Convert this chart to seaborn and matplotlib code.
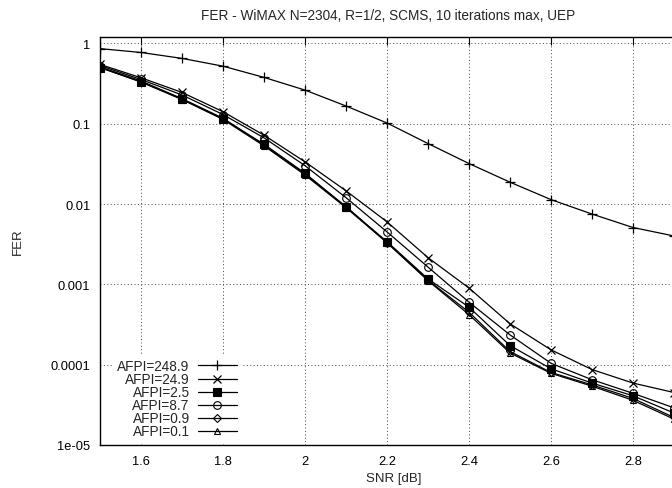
import numpy as np
import pandas as pd
import matplotlib
matplotlib.use("Agg")
import matplotlib.pyplot as plt
from matplotlib.ticker import FixedLocator, FuncFormatter, LogLocator, NullFormatter
import seaborn as sns

# SNR sweep [dB]
snr = [1.5, 1.6, 1.7, 1.8, 1.9, 2.0, 2.1, 2.2, 2.3, 2.4, 2.5, 2.6, 2.7, 2.8, 2.9]

# Frame error rate per AFPI setting
fer_248_9 = [0.86, 0.77, 0.65, 0.52, 0.377, 0.262, 0.166, 0.102, 0.0566, 0.0319,
             0.0187, 0.01135, 0.0075, 0.0051, 0.0040]
fer_24_9 = [0.547, 0.373, 0.245, 0.141, 0.072, 0.0335, 0.0146, 0.0060, 0.00215, 0.00090,
            0.000323, 0.000153, 0.000087, 0.000059, 0.000045]
fer_2_5 = [0.50, 0.333, 0.202, 0.115, 0.0556, 0.0242, 0.0092, 0.0034, 0.00117, 0.00052,
           0.000173, 0.000089, 0.000059, 0.000041, 0.000025]
fer_8_7 = [0.53, 0.355, 0.228, 0.130, 0.0667, 0.030, 0.012, 0.0045, 0.00164, 0.00060,
           0.000235, 0.000104, 0.000065, 0.000044, 0.000029]
fer_0_9 = [0.51, 0.34, 0.205, 0.117, 0.054, 0.0235, 0.0093, 0.0033, 0.00113, 0.00045,
           0.000146, 0.000080, 0.000056, 0.000038, 0.000022]
fer_0_1 = [0.50, 0.33, 0.200, 0.113, 0.053, 0.0230, 0.0090, 0.0033, 0.00111, 0.00042,
           0.000140, 0.000078, 0.000054, 0.000036, 0.000021]

labels = ["AFPI=248.9", "AFPI=24.9", "AFPI=2.5", "AFPI=8.7", "AFPI=0.9", "AFPI=0.1"]
series = [fer_248_9, fer_24_9, fer_2_5, fer_8_7, fer_0_9, fer_0_1]

x_ticks = [1.6, 1.8, 2.0, 2.2, 2.4, 2.6, 2.8]
y_ticks = [1, 0.1, 0.01, 0.001, 0.0001, 0.00001]

title = "FER - WiMAX N=2304, R=1/2, SCMS, 10 iterations max, UEP"

sns.set_style("white")
plt.rcParams["font.family"] = ["Liberation Sans", "DejaVu Sans"]
plt.rcParams["font.size"] = 9

marker_styles = [
    dict(marker="+", markersize=7, markeredgewidth=0.9, markerfacecolor="black"),
    dict(marker="x", markersize=5.5, markeredgewidth=0.9, markerfacecolor="black"),
    dict(marker="s", markersize=5.5, markeredgewidth=0.8, markerfacecolor="black"),
    dict(marker="o", markersize=5.5, markeredgewidth=0.8, markerfacecolor="none"),
    dict(marker="D", markersize=4, markeredgewidth=0.8, markerfacecolor="none"),
    dict(marker="^", markersize=5, markeredgewidth=0.8, markerfacecolor="none"),
]

W, H = 672, 489
fig = plt.figure(figsize=(W / 100, H / 100), dpi=100)
# the plot area runs past the right edge of the canvas
ax = fig.add_axes([100 / W, 43 / H, 615 / W, 408 / H])

for lab, vals, ms in zip(labels, series, marker_styles):
    df = pd.DataFrame({"SNR": snr, "FER": vals})
    sns.lineplot(data=df, x="SNR", y="FER", ax=ax, color="black", linewidth=0.9,
                 markeredgecolor="black", label=lab, **ms)

ax.set_yscale("log")
ax.set_xlim(1.5, 3.0)
ax.set_ylim(1e-5, 1.2)

ax.xaxis.set_major_locator(FixedLocator(x_ticks))
ax.xaxis.set_major_formatter(FuncFormatter(lambda v, p: "%g" % round(v, 3)))
ax.yaxis.set_major_locator(FixedLocator(y_ticks))
ax.yaxis.set_major_formatter(FuncFormatter(lambda v, p: "%g" % v))
ax.yaxis.set_minor_locator(LogLocator(base=10, subs=(2.0, 5.0)))
ax.yaxis.set_minor_formatter(NullFormatter())

ax.tick_params(which="both", direction="in", top=True, right=True, colors="black",
               labelsize=9.3, pad=7)
ax.tick_params(which="major", length=6, width=0.8)
ax.tick_params(which="minor", length=3, width=0.8)

ax.grid(True, which="major", color="#444444", linestyle=(0, (1, 2.5)), linewidth=0.7)
for s in ax.spines.values():
    s.set_color("black")
    s.set_linewidth(1.0)

ax.set_xlabel("")
ax.set_ylabel("FER", fontsize=9.5, labelpad=19)
fig.text(388 / W, 1 - 16 / H, title, ha="center", va="center", fontsize=9.8)
fig.text(394 / W, 1 - 479 / H, "SNR [dB]", ha="center", va="center", fontsize=9.5)

fs = 9.8
leg = ax.legend(loc="lower right", bbox_to_anchor=(0.2293, 0.006), markerfirst=False,
                frameon=True, facecolor="white", edgecolor="none", framealpha=1.0,
                fontsize=fs, handlelength=2.87, handletextpad=0.6, labelspacing=-0.07,
                borderpad=0.3, borderaxespad=0.0, fancybox=False)
leg.get_frame().set_linewidth(0)

fig.savefig("out.png", dpi=100)
